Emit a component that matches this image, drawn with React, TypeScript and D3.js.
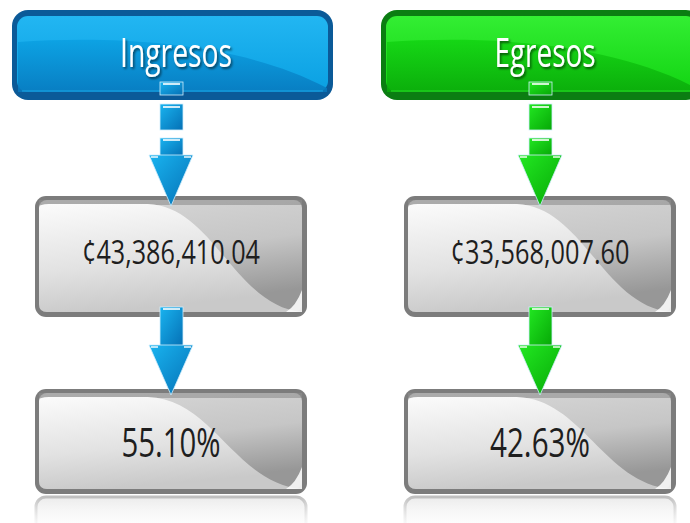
import React from 'react';
import * as d3 from 'd3';

// data
const categories = ['Ingresos', 'Egresos'];
const amounts = [43386410.04, 33568007.6];
const percents = [55.1, 42.63];
const themes = [
  { border: '#0b5a98', light: '#22b6f2', mid: '#0aa0e2', dark: '#0878bd', arrowA: '#19b4f0', arrowB: '#0570b5' },
  { border: '#0b7d12', light: '#33ee33', mid: '#12d412', dark: '#0aa80a', arrowA: '#22e822', arrowB: '#06a806' },
];

const fmtAmount = (v: number) => '¢' + d3.format(',.2f')(v);
const fmtPct = (v: number) => d3.format('.2f')(v) + '%';

const W = 690;
const H = 523;
const FONT = "'Open Sans', 'Noto Sans', sans-serif";

const Arrow = ({ cx, top, neck, tip, id }: { cx: number; top: number; neck: number; tip: number; id: string }) => {
  const head = d3.path();
  head.moveTo(cx - 22, neck);
  head.lineTo(cx + 22, neck);
  head.lineTo(cx, tip);
  head.closePath();
  return (
    <g>
      <rect x={cx - 11} y={top} width={23} height={neck - top + 1} fill={`url(#${id})`} stroke="#cfeefc" strokeWidth={0.8} />
      <path d={head.toString()} fill={`url(#${id})`} stroke="#cfeefc" strokeWidth={0.8} />
      <line x1={cx - 8} x2={cx + 9} y1={top + 2} y2={top + 2} stroke="#fff" strokeWidth={1.6} />
      <line x1={cx - 20} x2={cx - 13} y1={neck + 2} y2={neck + 2} stroke="#fff" strokeWidth={1.4} />
      <line x1={cx + 13} x2={cx + 20} y1={neck + 2} y2={neck + 2} stroke="#fff" strokeWidth={1.4} />
    </g>
  );
};

const GrayBox = ({ x, y, w, h, label, fs, tw, base }: any) => {
  const gloss = d3.path();
  const x0 = x + 4;
  const y0 = y + 8;
  const x1 = x + w - 5;
  const y1 = y + h - 5;
  gloss.moveTo(x0, y0 + 4);
  gloss.quadraticCurveTo(x0, y0, x0 + 10, y0);
  gloss.lineTo(x0 + w * 0.4, y0);
  gloss.bezierCurveTo(x0 + w * 0.64, y0 + 2, x0 + w * 0.72, y1 - 6, x1, y1);
  gloss.lineTo(x0 + 8, y1);
  gloss.quadraticCurveTo(x0, y1, x0, y1 - 8);
  gloss.closePath();
  const corner = d3.path();
  corner.moveTo(x1, y1 - 22);
  corner.quadraticCurveTo(x1 - 6, y1 - 6, x1 - 16, y1);
  corner.lineTo(x1, y1);
  corner.closePath();
  return (
    <g>
      <rect x={x} y={y} width={w} height={h} rx={11} fill="#7c7c7c" />
      <rect x={x + 4} y={y + 4} width={w - 9} height={h - 9} rx={8} fill="url(#grayRight)" />
      <rect x={x + 4} y={y + 4} width={w - 9} height={5} fill="#8e8e8e" opacity={0.6} />
      <path d={gloss.toString()} fill="url(#grayLeft)" />
      <path d={corner.toString()} fill="#ffffff" opacity={0.85} />
      <text
        x={x + w / 2}
        y={base}
        textAnchor="middle"
        fontFamily={FONT}
        fontSize={fs}
        fill="#1e1e1e"
        textLength={tw}
        lengthAdjust="spacingAndGlyphs"
      >
        {label}
      </text>
    </g>
  );
};

export default function App() {
  const xc = d3.scalePoint<string>().domain(categories).range([171, 540]);

  const headerY = 10;
  const headerH = 90;
  const box1 = { y: 196, h: 121 };
  const box2 = { y: 389, h: 105 };
  const headW = [112, 101];
  const amtW = [178, 179];
  const pctW = [99, 100];

  return (
    <svg width={W} height={H} style={{ position: 'absolute', left: 0, top: 0 }}>
      <defs>
        <linearGradient id="grayRight" x1="0" y1="0" x2="0.3" y2="1">
          <stop offset="0" stopColor="#d8d8d8" />
          <stop offset="0.55" stopColor="#c6c6c6" />
          <stop offset="1" stopColor="#979797" />
        </linearGradient>
        <linearGradient id="grayLeft" x1="0" y1="0" x2="0.25" y2="1">
          <stop offset="0" stopColor="#fbfbfb" />
          <stop offset="0.6" stopColor="#e2e2e2" />
          <stop offset="1" stopColor="#c9c9c9" />
        </linearGradient>
        <linearGradient id="reflect" x1="0" y1="0" x2="0" y2="1">
          <stop offset="0" stopColor="#b9b9b9" stopOpacity={0.9} />
          <stop offset="1" stopColor="#ffffff" stopOpacity={0} />
        </linearGradient>
        <linearGradient id="reflectFill" x1="0" y1="0" x2="0" y2="1">
          <stop offset="0" stopColor="#e6e6e6" stopOpacity={0.8} />
          <stop offset="1" stopColor="#ffffff" stopOpacity={0} />
        </linearGradient>
        {themes.map((t, i) => (
          <React.Fragment key={i}>
            <linearGradient id={`head${i}`} x1="0" y1="0" x2="0" y2="1">
              <stop offset="0" stopColor={t.light} />
              <stop offset="1" stopColor={t.mid} />
            </linearGradient>
            <linearGradient id={`headLow${i}`} x1="0" y1="0" x2="0" y2="1">
              <stop offset="0" stopColor={t.mid} />
              <stop offset="1" stopColor={t.dark} />
            </linearGradient>
            <linearGradient id={`arrow${i}`} x1="0" y1="0" x2="1" y2="1">
              <stop offset="0" stopColor={t.arrowA} />
              <stop offset="1" stopColor={t.arrowB} />
            </linearGradient>
          </React.Fragment>
        ))}
        <filter id="shadow" x="-20%" y="-20%" width="140%" height="140%">
          <feDropShadow dx="1.5" dy="2" stdDeviation="1.2" floodColor="#000" floodOpacity="0.55" />
        </filter>
      </defs>

      {categories.map((c, i) => {
        const cx = xc(c) as number;
        const t = themes[i];
        const hx = cx - 159;
        const hw = 321;
        const lowPath = d3.path();
        lowPath.moveTo(hx + 6, headerY + 32);
        lowPath.bezierCurveTo(hx + hw * 0.3, headerY + 26, hx + hw * 0.7, headerY + 30, hx + hw - 6, headerY + headerH - 12);
        lowPath.lineTo(hx + hw - 6, headerY + headerH - 8);
        lowPath.lineTo(hx + 6, headerY + headerH - 8);
        lowPath.closePath();
        const bx = cx - 136;
        return (
          <g key={c}>
            {/* header */}
            <rect x={hx} y={headerY} width={hw} height={headerH} rx={16} fill={t.border} />
            <rect x={hx + 5} y={headerY + 6} width={hw - 10} height={headerH - 14} rx={11} fill={`url(#head${i})`} />
            <path d={lowPath.toString()} fill={`url(#headLow${i})`} opacity={0.85} />
            <line x1={hx + 10} x2={hx + hw - 10} y1={headerY + headerH - 9} y2={headerY + headerH - 9} stroke={t.light} strokeWidth={1} opacity={0.7} />
            <text
              x={cx + 5}
              y={headerY + 57}
              textAnchor="middle"
              fontFamily={FONT}
              fontSize={41}
              fill="#ffffff"
              filter="url(#shadow)"
              textLength={headW[i]}
              lengthAdjust="spacingAndGlyphs"
            >
              {c}
            </text>

            {/* connector pieces */}
            <rect x={cx - 11} y={82} width={23} height={13} fill={`url(#arrow${i})`} stroke="#cfeefc" strokeWidth={0.8} />
            <line x1={cx - 8} x2={cx + 9} y1={84} y2={84} stroke="#fff" strokeWidth={1.6} />
            <rect x={cx - 11} y={104} width={23} height={26} fill={`url(#arrow${i})`} stroke="#cfeefc" strokeWidth={0.8} />
            <line x1={cx - 8} x2={cx + 9} y1={107} y2={107} stroke="#fff" strokeWidth={1.6} />

            {/* boxes */}
            <GrayBox x={bx} y={box1.y} w={272} h={box1.h} label={fmtAmount(amounts[i])} fs={32} tw={amtW[i]} base={264} />
            <GrayBox x={bx} y={box2.y} w={272} h={box2.h} label={fmtPct(percents[i])} fs={40} tw={pctW[i]} base={457} />

            {/* reflection */}
            <rect x={bx + 1} y={box2.y + box2.h + 3} width={270} height={40} rx={10} fill="url(#reflectFill)" stroke="url(#reflect)" strokeWidth={3} />

            {/* arrows */}
            <Arrow cx={cx} top={138} neck={155} tip={206} id={`arrow${i}`} />
            <Arrow cx={cx} top={307} neck={345} tip={395} id={`arrow${i}`} />
          </g>
        );
      })}
    </svg>
  );
}
